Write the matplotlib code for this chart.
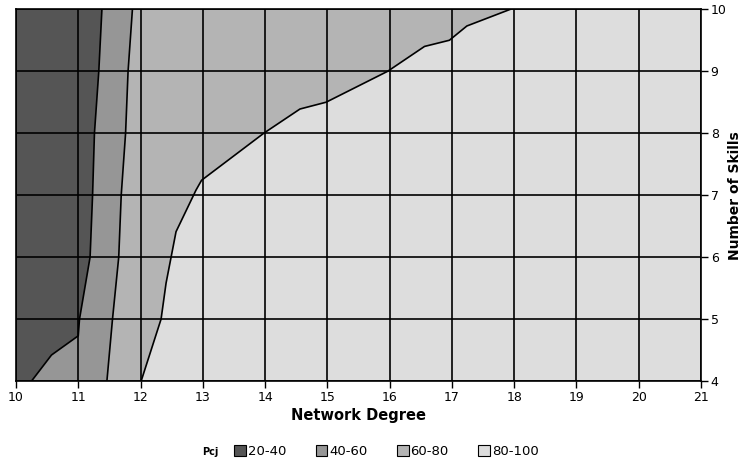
import matplotlib.pyplot as plt
from matplotlib.patches import Patch

# contour boundaries (network degree x, number of skills y)
b1_x = [10.25, 10.57, 11.00, 11.02, 11.19, 11.23, 11.26, 11.33, 11.38]
b1_y = [4.00, 4.42, 4.73, 5.00, 6.00, 7.00, 8.00, 9.00, 10.00]

b2_x = [11.46, 11.55, 11.65, 11.69, 11.76, 11.80, 11.87]
b2_y = [4.00, 5.00, 6.00, 7.00, 8.00, 9.00, 10.00]

b3_x = [12.01, 12.33, 12.41, 12.57, 12.89, 12.98, 13.98, 14.56, 14.98, 15.97, 16.56, 16.96, 17.24, 17.94]
b3_y = [4.00, 5.00, 5.58, 6.41, 7.08, 7.24, 8.00, 8.39, 8.50, 9.00, 9.40, 9.50, 9.73, 10.00]

bands = ['20-40', '40-60', '60-80', '80-100']
colors = ['#555555', '#969696', '#b4b4b4', '#dddddd']

x_min, x_max = 10, 21
y_min, y_max = 4, 10

fig = plt.figure(figsize=(7.43, 4.63), dpi=100)
ax = fig.add_axes([0.0215, 0.177, 0.922, 0.803])

# band 20-40
ax.fill([x_min, x_min] + b1_x[::-1], [y_min, y_max] + b1_y[::-1], color=colors[0], lw=0)
# band 40-60
ax.fill(b1_x + b2_x[::-1], b1_y + b2_y[::-1], color=colors[1], lw=0)
# band 60-80
ax.fill(b2_x + b3_x[::-1], b2_y + b3_y[::-1], color=colors[2], lw=0)
# band 80-100
ax.fill(b3_x + [x_max, x_max], b3_y + [y_max, y_min], color=colors[3], lw=0)

for bx, by in [(b1_x, b1_y), (b2_x, b2_y), (b3_x, b3_y)]:
    ax.plot(bx, by, color='black', lw=1.2)

ax.set_xlim(x_min, x_max)
ax.set_ylim(y_min, y_max)
ax.set_xticks(range(x_min, x_max + 1))
ax.set_yticks(range(y_min, y_max + 1))
ax.grid(True, color='black', lw=1.2)
ax.set_axisbelow(False)
for s in ax.spines.values():
    s.set_color('black')
    s.set_linewidth(1.2)

ax.yaxis.tick_right()
ax.yaxis.set_label_position('right')
ax.tick_params(axis='both', direction='out', length=5, width=1, labelsize=9, pad=2)
ax.tick_params(axis='y', left=False)
ax.set_xlabel('Network Degree', fontsize=10.5, fontweight='bold', labelpad=3)
ax.set_ylabel('Number of Skills', fontsize=10, fontweight='bold', labelpad=1)

handles = [Patch(facecolor=c, edgecolor='black', lw=0.8) for c in colors]
fig.legend(handles, bands, loc='center', bbox_to_anchor=(0.52, 0.025), ncol=4,
           frameon=False, fontsize=9.5, handlelength=0.9, handleheight=0.9,
           handletextpad=0.15, columnspacing=2.2)
fig.text(0.283, 0.023, 'Pcj', fontsize=7, fontweight='bold', ha='center', va='center')

fig.savefig('out.png', dpi=100)
